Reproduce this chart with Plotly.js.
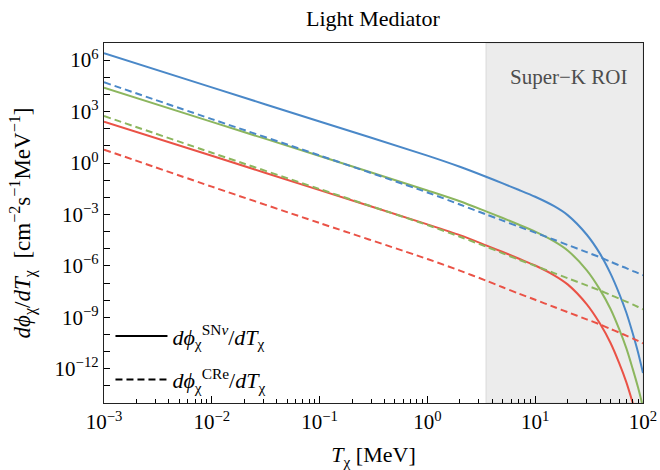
<!DOCTYPE html>
<html><head><meta charset="utf-8">
<script src="https://cdn.plot.ly/plotly-3.0.1.min.js"></script>
<style>html,body{margin:0;padding:0;background:#fff}</style>
</head><body>
<div id="chart" style="width:660px;height:470px"></div>
<script>
// Kinetic energy T_chi [MeV]
const T = [0.001, 0.01, 0.1, 1, 2, 3.5, 5, 7, 10, 15, 20, 30, 40, 50, 60, 70, 80, 90, 100];

// SN-nu boosted DM flux (solid)
const snBlue  = [2.51e6, 2.57e4, 263, 2.69, 0.603, 0.158, 0.0646, 0.0275, 0.0107, 3.02e-3, 9.12e-4, 6.76e-5, 5.01e-6, 3.55e-7, 2.51e-8, 1.91e-9, 1.26e-10, 8.91e-12, 5.62e-13];
const snGreen = [2.45e4, 251, 2.57, 0.0251, 5.89e-3, 1.51e-3, 6.17e-4, 2.57e-4, 1.0e-4, 2.69e-5, 7.94e-6, 5.62e-7, 3.98e-8, 3.02e-9, 2.09e-10, 1.58e-11, 1.05e-12, 7.94e-14, 5.62e-15];
const snRed   = [257, 2.63, 0.0263, 2.63e-4, 6.17e-5, 1.58e-5, 6.46e-6, 2.69e-6, 1.05e-6, 2.82e-7, 8.32e-8, 5.89e-9, 4.17e-10, 3.16e-11, 2.19e-12, 1.66e-13, 1.10e-14, 8.32e-16, 5.89e-17];

// CR-electron boosted DM flux (dashed)
const crBlue  = [5.13e4, 363, 2.75, 0.0191, 3.80e-3, 1.0e-3, 4.37e-4, 1.95e-4, 8.71e-5, 3.31e-5, 1.66e-5, 6.31e-6, 3.16e-6, 1.74e-6, 1.07e-6, 7.41e-7, 5.13e-7, 3.80e-7, 2.82e-7];
const crGreen = [550, 3.98, 0.0302, 2.40e-4, 5.01e-5, 1.32e-5, 5.37e-6, 2.34e-6, 1.0e-6, 3.80e-7, 1.91e-7, 7.24e-8, 3.63e-8, 2.0e-8, 1.23e-8, 8.13e-9, 5.62e-9, 3.98e-9, 2.88e-9];
const crRed   = [6.03, 0.0417, 3.16e-4, 2.51e-6, 5.25e-7, 1.38e-7, 5.62e-8, 2.45e-8, 1.05e-8, 3.98e-9, 2.0e-9, 7.59e-10, 3.80e-10, 2.09e-10, 1.29e-10, 8.51e-11, 5.89e-11, 4.17e-11, 3.02e-11];

// Super-K region of interest
const roiStart = 3.5, roiEnd = 100;

// Ticks
const xMajor = [1e-3, 1e-2, 1e-1, 1, 10, 100];
const xMajorText = ['10<sup>−3</sup>', '10<sup>−2</sup>', '10<sup>−1</sup>', '10<sup>0</sup>', '10<sup>1</sup>', '10<sup>2</sup>'];
const yMajor = [1e-12, 1e-9, 1e-6, 1e-3, 1, 1e3, 1e6];
const yMajorText = ['10<sup>−12</sup>', '10<sup>−9</sup>', '10<sup>−6</sup>', '10<sup>−3</sup>', '10<sup>0</sup>', '10<sup>3</sup>', '10<sup>6</sup>'];

const xMinor = [];
for (const d of [1e-3, 1e-2, 1e-1, 1, 10]) for (let k = 2; k <= 9; k++) xMinor.push(+(d * k).toPrecision(3));
const yMinor = [];
for (let e = -14; e <= 7; e++) yMinor.push(Math.pow(10, e));

const BLUE = '#4A88C8', GREEN = '#8CB65E', RED = '#EA5246';
const DASH = '7px,4px';
const serif = '"Liberation Serif", "DejaVu Serif", serif';

function tr(y, color, dash) {
  return {x: T, y: y, type: 'scatter', mode: 'lines', showlegend: false, hoverinfo: 'skip',
          line: {color: color, width: 2, dash: dash, shape: 'spline', smoothing: 0.8}};
}

const data = [
  tr(snBlue, BLUE, 'solid'), tr(snGreen, GREEN, 'solid'), tr(snRed, RED, 'solid'),
  tr(crBlue, BLUE, DASH), tr(crGreen, GREEN, DASH), tr(crRed, RED, DASH),
  {x: [null], y: [null], type: 'scatter', mode: 'lines', line: {color: '#000', width: 2}, legendgroup: 'sn',
   name: '<i>dϕ</i><sub>χ</sub><sup>SN<i>ν</i></sup>/<i>dT</i><sub>χ</sub>'},
  {x: [null], y: [null], type: 'scatter', mode: 'lines', line: {color: '#000', width: 2, dash: DASH}, legendgroup: 'cr',
   name: '<i>dϕ</i><sub>χ</sub><sup>CRe</sup>/<i>dT</i><sub>χ</sub>'}
];

const layout = {
  width: 660, height: 470,
  margin: {l: 104, r: 17, t: 43, b: 67},
  paper_bgcolor: '#fff', plot_bgcolor: '#fff',
  font: {family: serif, color: '#000', size: 21},
  title: {text: 'Light Mediator', font: {family: serif, size: 22, color: '#000'}, x: 0.565, xanchor: 'center', y: 0.962, yanchor: 'middle'},
  xaxis: {
    type: 'log', range: [-3, 2], showgrid: false, zeroline: false,
    tickmode: 'array', tickvals: xMajor, ticktext: xMajorText,
    ticks: 'inside', ticklen: 7, tickwidth: 1, tickcolor: '#000',
    minor: {tickmode: 'array', tickvals: xMinor, ticks: 'inside', ticklen: 4, tickwidth: 1, tickcolor: '#000', showgrid: false},
    showline: true, linecolor: '#222', linewidth: 1.2, mirror: true,
    tickfont: {family: serif, size: 21},
    title: {text: '<i>T</i><sub>χ</sub> [MeV]', font: {family: serif, size: 22}, standoff: 17}
  },
  yaxis: {
    type: 'log', range: [-14, 7], showgrid: false, zeroline: false,
    tickmode: 'array', tickvals: yMajor, ticktext: yMajorText,
    ticks: 'inside', ticklen: 6, tickwidth: 1, tickcolor: '#000',
    minor: {tickmode: 'array', tickvals: yMinor, ticks: 'inside', ticklen: 6, tickwidth: 1, tickcolor: '#000', showgrid: false},
    showline: true, linecolor: '#222', linewidth: 1.2, mirror: true,
    tickfont: {family: serif, size: 21},
    title: {text: '<i>dϕ</i><sub>χ</sub>/<i>dT</i><sub>χ</sub>  [cm<sup>−2</sup>s<sup>−1</sup>MeV<sup>−1</sup>]', font: {family: serif, size: 23}, standoff: 17}
  },
  shapes: [{
    type: 'rect', xref: 'x', yref: 'paper', x0: roiStart, x1: roiEnd, y0: 0, y1: 1,
    fillcolor: 'rgb(236,236,236)', line: {color: 'rgb(218,218,218)', width: 1}, layer: 'below'
  }],
  annotations: [{
    xref: 'paper', yref: 'paper', x: 0.862, y: 0.905, text: 'Super−K ROI', showarrow: false,
    font: {family: serif, size: 21, color: '#4d4d4d'}, xanchor: 'center', yanchor: 'middle'
  }],
  legend: {
    x: 0.012, y: 0.005, xanchor: 'left', yanchor: 'bottom', bgcolor: 'rgba(0,0,0,0)',
    font: {family: serif, size: 22, color: '#000'}, tracegroupgap: 12, itemwidth: 52
  },
  showlegend: true
};

Plotly.newPlot('chart', data, layout, {displayModeBar: false, staticPlot: true});
</script>
</body></html>
